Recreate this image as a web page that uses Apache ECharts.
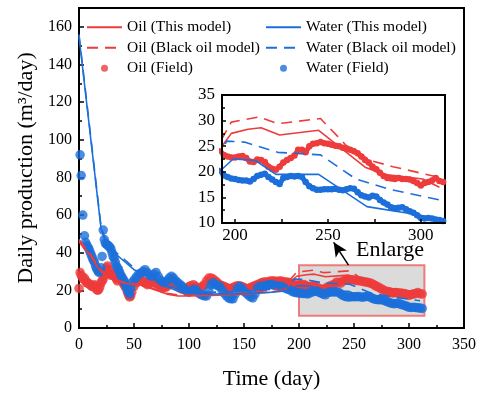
<!DOCTYPE html>
<html>
<head>
<meta charset="utf-8">
<script src="https://cdn.jsdelivr.net/npm/echarts@6/dist/echarts.min.js"></script>
<style>
  html, body { margin: 0; padding: 0; background: #fff; }
  #chart { width: 483px; height: 395px; }
</style>
</head>
<body>
<div id="chart"></div>
<script>
// ---- Simulated rates: [day, m3/day] ----
const oilModel = [[0,46],[5,42],[10,39],[15,34],[20,30],[25,27.5],[30,26],[40,24],[50,23],[55,23],[60,22],[70,20],[80,18],[90,17],[100,17],[120,17.3],[150,18],[175,19],[188,20.5],[193,25],[198,27.5],[207,28.3],[214,28.6],[224,27.2],[245,28.1],[270,20.9],[280,19.5],[301,18.6],[310,17.0]];
const waterModel = [[0,155],[20,53],[24,46],[30,41],[40,36],[50,31],[60,28.5],[70,25],[80,22],[90,19.5],[100,18.5],[120,18],[150,18.3],[175,19],[185,19.5],[193,20.5],[199,22.5],[211,22.2],[222,19.5],[245,19.5],[271,13.2],[300,11.5],[310,10.6]];
const oilBlackOil = [[0,47],[5,43],[10,40],[15,35],[20,31],[25,28],[30,26.5],[40,24.5],[50,23.5],[55,23.3],[60,22.5],[70,20.5],[80,18.5],[90,17.5],[100,17.5],[120,18],[150,18.8],[175,20],[188,22],[192,25.8],[198,29.7],[213,30.7],[223,29.4],[246,30.4],[260,25.1],[273,22.2],[285,21],[310,18.9]];
const waterBlackOil = [[0,156],[20,54],[24,47],[30,42],[40,37],[50,32],[60,29],[70,26],[80,23],[90,20.5],[100,19.5],[120,19],[150,19.5],[175,20.5],[190,22],[195.5,26],[205,25.8],[223,23.8],[246,23.3],[265,18.6],[283,16.6],[310,14.5]];

// ---- Field measurements: [day, m3/day] ----
const oilField = [[0,21],[1,29.5],[2,28],[3,27],[4,26],[5,26.5],[6,25],[7,24],[8,24],[9,23.5],[10,23],[11,22.5],[12,22],[13,22.5],[14,23],[15,21.5],[16,20.5],[17,20],[18,20.5],[19,22],[20,24],[21,25],[22,26],[23,28],[24,30],[25,32],[26,33],[27,31],[28,29],[29,28],[30,28.5],[31,29],[32,28],[33,27],[34,26],[35,25],[36,26.5],[37,27.5],[38,26],[39,25],[40,24],[41,23],[42,22],[43,21],[44,19],[45,17.5],[46,16.5],[47,17],[48,19],[50,22],[52,24],[54,25.5],[56,26],[58,25],[60,24],[62,23],[64,24],[66,25],[68,24],[70,23.5],[72,23],[74,22],[76,21],[78,21.5],[80,22],[82,23],[84,24],[86,24.5],[88,23.5],[90,22],[92,21],[94,20.5],[96,20.5],[98,21],[100,22],[102,22.5],[104,23],[106,22],[108,21],[110,21.5],[112,22],[114,23],[116,25],[118,26.5],[120,26.5],[122,26],[124,25],[126,24],[128,23],[130,22.5],[132,22],[134,21.5],[136,21],[138,21],[140,21.5],[142,22],[144,22.5],[146,22.5],[148,22],[150,21.5],[152,21],[154,21],[156,21.5],[158,22],[160,22.5],[162,23],[164,23.5],[166,24],[168,24.5],[170,24.5],[172,24.5],[174,25],[176,25],[178,25],[180,24.5],[182,25],[184,25],[186,24.5],[188,24.5],[190,24.3],
  [192,24.1],[194,23.3],[196,23.0],[198,22.8],[200,22.8],[202,23.0],[204,23.1],[206,22.7],[208,22.0],[210,21.9],[212,22.4],[214,22.3],[216,21.9],[218,21.0],[220,20.6],[222,20.4],[224,21.0],[226,21.8],[228,22.3],[230,22.7],[232,23.2],[234,24.3],[236,24.3],[238,23.8],[240,25.0],[242,25.5],[244,25.6],[246,25.8],[248,25.6],[250,25.5],[252,25.3],[254,25.1],[256,25.0],[258,24.7],[260,24.5],[262,24.3],[264,24.0],[266,23.6],[268,23.0],[270,22.3],[272,21.8],[274,21.0],[276,20.5],[278,19.8],[280,19.2],[282,18.8],[284,18.7],[286,18.6],[288,18.8],[290,18.6],[292,18.6],[294,18.5],[296,18.2],[298,17.8],[300,17.3],[302,17.8],[304,18.0],[306,18.3],[308,18.8],[310,18.2],[312,18.0]];
const waterField = [[1,92],[2,81],[3.5,60],[5,49],[6,45.5],[7,44],[8,43],[9,42],[10,40.5],[11,39],[12,37.5],[13,36],[14,35],[15,33],[16,31.5],[17,30.5],[18,29.5],[19,30],[20,32],[21,38],[22,52],[23,47],[24,45],[25,44.5],[26,44],[27,43.5],[28,43],[29,42],[30,40],[31,38],[32,37],[33,35],[34,33],[35,32],[36,31],[37,29.5],[38,28],[39,27],[40,26],[41,25],[42,23.5],[43,22],[44,20.5],[45,19],[46,18],[47,21],[48,24],[50,25.5],[52,27],[54,28.5],[56,29],[58,30],[60,31],[62,29.5],[64,28],[66,27.5],[68,28.5],[70,29.5],[72,27.5],[74,25.5],[76,24.5],[78,24],[80,25],[82,26.5],[84,27.5],[86,26.5],[88,25],[90,24],[92,23],[94,22],[96,20.5],[98,19.5],[100,19],[102,19.5],[104,20.5],[106,20.5],[108,19],[110,18],[112,17.5],[114,17],[116,17],[118,20],[120,23],[122,24],[124,23],[126,22.5],[128,22],[130,20],[132,18.5],[134,17],[136,16],[138,15.5],[140,15.5],[142,18],[144,21],[146,22],[148,21],[150,19.5],[152,18.5],[154,17.5],[156,16.5],[158,16],[160,18],[162,21],[164,22],[166,22],[168,22.5],[170,22.5],[172,23],[174,23],[176,23],[178,22.5],[180,22.5],[182,22],[184,22],[186,21.5],[188,21],[190,20.5],
  [192,20.2],[194,19.3],[196,19.0],[198,18.7],[200,18.6],[202,18.4],[204,18.3],[206,18.3],[208,18.1],[210,18.6],[212,19.2],[214,19.4],[216,19.6],[218,19.0],[220,18.5],[222,18.0],[224,17.6],[226,18.8],[228,19.0],[230,19.2],[232,19.1],[234,19.2],[236,19.0],[238,18.0],[240,17.2],[242,16.8],[244,16.5],[246,16.5],[248,16.6],[250,16.6],[252,16.6],[254,16.7],[256,16.5],[258,16.4],[260,16.6],[262,16.8],[264,16.7],[266,16.0],[268,15.4],[270,15.2],[272,15.0],[274,15.3],[276,15.2],[278,14.5],[280,14.0],[282,13.6],[284,13.1],[286,12.9],[288,13.0],[290,13.1],[292,12.7],[294,12.3],[296,12.0],[298,11.5],[300,11.0],[302,10.9],[304,11.0],[306,10.9],[308,10.7],[310,10.6],[312,10.4]];

// ---- Axis settings ----
const mainXTicks = { min: 0, max: 350, step: 50 };
const mainYTicks = { min: 0, max: 170, step: 20 };
const insetXLabels = [200, 250, 300];
const insetXTickMarks = [200, 225, 250, 275, 300];
const insetYTicks = { min: 10, max: 35, step: 5 };
const zoomBox = { x0: 200, x1: 314, y0: 6.5, y1: 33.4 };

const RED = '#EE3B3B';
const BLUE = '#1C6FDA';
const SERIF = '"Liberation Serif", "Times New Roman", serif';
const DASH = [11, 7];

const chart = echarts.init(document.getElementById('chart'), null, { renderer: 'canvas' });

function axisBase(z) {
  return {
    type: 'value',
    z: z,
    splitLine: { show: false },
    axisLine: { show: true, onZero: false, lineStyle: { color: '#000', width: 2 } },
    axisTick: { show: true, inside: true, length: 5, lineStyle: { color: '#000', width: 1.5 } },
    minorTick: { show: true, splitNumber: 2, length: 3, lineStyle: { color: '#000', width: 1.5 } },
    axisLabel: { color: '#000', fontFamily: SERIF, fontSize: 16 }
  };
}

// Field data: scatter dots in the full view; in the enlarged view the dense
// daily readings merge into a thick track, drawn as dots joined by a wide stroke.
function fieldSeries(name, data, color, gridIndex, symbolSize, z) {
  const base = { name: name, data: data, symbol: 'circle', symbolSize: symbolSize,
    itemStyle: { color: color }, z: z, clip: true, xAxisIndex: gridIndex, yAxisIndex: gridIndex };
  if (gridIndex === 0) return Object.assign(base, { type: 'scatter' });
  return Object.assign(base, { type: 'line', showSymbol: true, lineStyle: { color: color, width: 5 } });
}

function modelSeries(name, data, color, dashed, gridIndex, z) {
  return { name: name, type: 'line', data: data, showSymbol: false, symbol: 'none',
    lineStyle: { color: color, width: 1.6, type: dashed ? DASH : 'solid' }, itemStyle: { color: color },
    z: z, clip: true, xAxisIndex: gridIndex, yAxisIndex: gridIndex };
}

function seriesFor(gridIndex, symbolSize, zBase) {
  return [
    fieldSeries('Oil (Field)', oilField, RED, gridIndex, symbolSize, zBase),
    fieldSeries('Water (Field)', waterField, BLUE, gridIndex, symbolSize, zBase + 1),
    modelSeries('Oil (This model)', oilModel, RED, false, gridIndex, zBase + 2),
    modelSeries('Oil (Black oil model)', oilBlackOil, RED, true, gridIndex, zBase + 2),
    modelSeries('Water (This model)', waterModel, BLUE, false, gridIndex, zBase + 2),
    modelSeries('Water (Black oil model)', waterBlackOil, BLUE, true, gridIndex, zBase + 2)
  ];
}

const legendText = { fontFamily: SERIF, fontSize: 15.5, color: '#000', lineHeight: 20.5 };
const hiddenSymbol = { color: 'rgba(0,0,0,0)', borderWidth: 0, opacity: 0 };
function legendItems(names) {
  // model curves show only their line in the key; field data show a dot
  return names.map(n => n.indexOf('Field') >= 0 ? { name: n } : { name: n, itemStyle: hiddenSymbol });
}

const mainX = Object.assign(axisBase(1), {
  gridIndex: 0, min: mainXTicks.min, max: mainXTicks.max, interval: mainXTicks.step,
  name: 'Time (day)', nameLocation: 'middle', nameGap: 40,
  nameTextStyle: { fontFamily: SERIF, fontSize: 22, color: '#000' }
});
mainX.axisLabel.margin = 9;

const mainY = Object.assign(axisBase(1), {
  gridIndex: 0, min: mainYTicks.min, max: mainYTicks.max, interval: mainYTicks.step,
  name: 'Daily production (m³/day)', nameLocation: 'middle', nameGap: 42,
  nameTextStyle: { fontFamily: SERIF, fontSize: 22, color: '#000' }
});
mainY.axisLabel.showMaxLabel = false;
mainY.axisLabel.margin = 7;

const insetX = Object.assign(axisBase(30), { gridIndex: 1, min: 193, max: 313 });
insetX.axisLabel = { color: '#000', fontFamily: SERIF, fontSize: 17, margin: 4, customValues: insetXLabels };
insetX.axisTick = { show: true, inside: true, length: 4, customValues: insetXTickMarks, lineStyle: { color: '#000', width: 1.5 } };
insetX.minorTick = { show: false };

const insetY = Object.assign(axisBase(30), {
  gridIndex: 1, min: insetYTicks.min, max: insetYTicks.max, interval: insetYTicks.step
});
insetY.axisLabel.fontSize = 17;
insetY.axisLabel.margin = 7;
insetY.axisTick.length = 4;

const option = {
  animation: false,
  backgroundColor: '#fff',
  textStyle: { fontFamily: SERIF },
  grid: [
    { left: 79, right: 19, top: 8, bottom: 66, show: true, borderColor: '#000', borderWidth: 2, backgroundColor: 'transparent' },
    { left: 222, right: 38, top: 95, bottom: 172, show: true, borderColor: '#000', borderWidth: 2, backgroundColor: '#fff', z: 15 }
  ],
  xAxis: [mainX, insetX],
  yAxis: [mainY, insetY],
  legend: [
    { orient: 'vertical', left: 86, top: 17, itemWidth: 35, itemHeight: 7, itemGap: 0, padding: 0,
      data: legendItems(['Oil (This model)', 'Oil (Black oil model)', 'Oil (Field)']), textStyle: legendText, selectedMode: false },
    { orient: 'vertical', left: 265, top: 17, itemWidth: 35, itemHeight: 7, itemGap: 0, padding: 0,
      data: legendItems(['Water (This model)', 'Water (Black oil model)', 'Water (Field)']), textStyle: legendText, selectedMode: false }
  ],
  series: seriesFor(0, 9.5, 2).concat(seriesFor(1, 6.5, 20)).concat([
    {
      // highlighted window and arrow pointing to the enlarged view
      type: 'line', xAxisIndex: 0, yAxisIndex: 0, data: [], z: 10, silent: true,
      markArea: {
        silent: true,
        itemStyle: { color: 'rgba(190,190,190,0.55)', borderColor: 'rgba(240,110,110,0.9)', borderWidth: 2 },
        data: [[{ coord: [zoomBox.x0, zoomBox.y1] }, { coord: [zoomBox.x1, zoomBox.y0] }]]
      },
      markLine: {
        silent: true, symbol: ['none', 'arrow'], symbolSize: [10, 14],
        lineStyle: { color: '#000', width: 1.5, type: 'solid' }, label: { show: false },
        data: [[{ coord: [245, zoomBox.y1] }, { coord: [231.5, 45.5] }]]
      }
    }
  ])
};

chart.setOption(option);

const labelPos = chart.convertToPixel({ gridIndex: 0 }, [251.8, 41.3]);
chart.setOption({
  graphic: [{
    type: 'text', x: labelPos[0], y: labelPos[1], z: 20,
    style: { text: 'Enlarge', fill: '#000', font: '22px ' + SERIF, align: 'left', verticalAlign: 'middle' }
  }]
});
</script>
</body>
</html>
